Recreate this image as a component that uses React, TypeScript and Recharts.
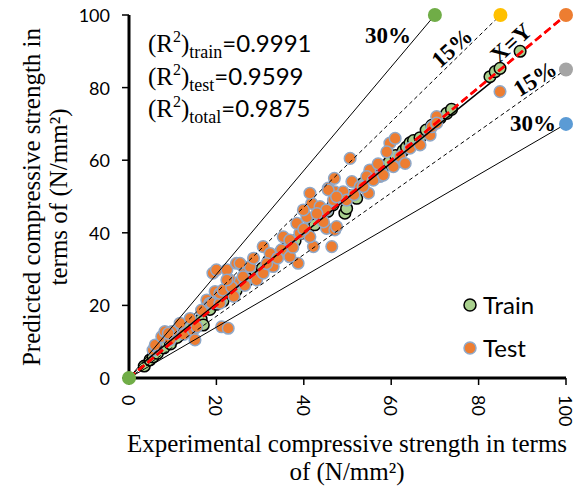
import { Legend, Scatter, ScatterChart, XAxis, YAxis } from "recharts";

const trainX = [3.5, 4.8, 5.5, 6.5, 8, 9.5, 11, 12.5, 13.5, 15, 16.5, 17, 18.5, 20, 21.5, 23, 24.5, 26, 27.5, 29, 30.5, 32, 33.5, 35, 36.5, 38, 39.5, 41, 42.5, 44, 45.5, 46.7, 49.4, 49.8, 50.5, 52.1, 53.5, 55, 56.7, 58, 59.5, 61, 62.7, 63.5, 64.3, 65.1, 66.6, 68, 69.3, 71.2, 72.7, 73.8, 82.6, 83.8, 84.9, 89.5];
const trainY = [3.3, 5.0, 5.8, 6.8, 8.3, 9.4, 11.2, 12.3, 13.9, 15.4, 16.2, 14.6, 18.9, 20.3, 21.2, 23.4, 24.1, 26.4, 27.2, 29.3, 30.2, 32.4, 33.1, 35.2, 36.9, 37.8, 39.9, 41.3, 42.2, 44.3, 45.9, 47.7, 45.4, 46.7, 50.2, 49.5, 53.6, 55.3, 57.2, 57.8, 59.4, 61.3, 62.6, 63.6, 64.8, 65.4, 66.2, 68.3, 69.6, 71.6, 72.9, 74.0, 83.0, 84.4, 85.3, 90.0];

const testX = [5.5, 6.3, 6, 7.5, 8.2, 9.8, 9.4, 9, 11.7, 12.5, 14, 14.7, 15.5, 15.1, 16.6, 17.8, 18.5, 18.9, 20.8, 19.7, 20.8, 21.5, 19.2, 20, 22.4, 23.1, 24.6, 26.1, 25.4, 21.2, 22.7, 23.5, 24, 26.5,
  27.7, 25.4, 26.1, 29.2, 30.7, 22.4, 33, 38.7, 30.7, 32.3, 35.3, 36.8, 34.9, 36.8, 42.2, 41.4, 39.1, 38.4, 40.7, 43.7, 45.2, 47.1, 41.8, 43.7, 39.9, 41.4, 45.6, 47.1, 46.4, 47.5, 28.5, 31.5, 34, 37.5, 40, 44.5,
  50.6, 59.7, 60.9, 59, 62, 60.5, 55.1, 54.4, 57.4, 51, 52.9, 49, 45.6, 46.8, 49.8, 45.2, 43, 64.3, 66.6, 68.9, 55.9, 58.2, 54.8, 53.6, 47.5, 62, 63.2, 47, 51.5, 57,
  70.4, 69.3, 70.4, 84.9];
const testY = [7.7, 8.6, 9.1, 11.4, 12.8, 12.8, 10.5, 12.3, 15.1, 12, 16.4, 13.2, 14.1, 10.5, 18.7, 21.5, 20.6, 20.6, 20.6, 23.8, 23.3, 24.2, 28.9, 29.8, 29.8, 27, 31.6, 30.7, 26.5, 14.1, 13.7, 25, 22.5, 25.5,
  30.7, 31.6, 27.9, 27, 28.9, 27, 30.7, 31.6, 36.2, 34.3, 38.9, 38, 35.3, 33.4, 36.2, 38.9, 39.9, 42.6, 44.4, 44.4, 41.2, 40.8, 48.1, 47.2, 46.3, 50.9, 52.3, 51.3, 36.2, 41.7, 33, 31.5, 33, 36, 41, 43,
  60.5, 64.7, 66, 62.3, 59.6, 58.2, 57.3, 55.5, 55.5, 54.1, 52.7, 51.3, 51.8, 49, 49, 46.3, 45.3, 63.3, 64.2, 66.9, 54.5, 55.9, 50.9, 52.7, 49.9, 61, 59.1, 55, 50.5, 59,
  72, 69.2, 70.2, 78.9];

const axisTicks = [0, 20, 40, 60, 80, 100];

// +30%, +15%, X=Y, -15%, -30% lines, all starting at the origin
const boundX = [70, 85, 100, 100, 100];
const boundY = [100, 100, 100, 85, 70];
const boundColors = ["#70AD47", "#FFC000", "#ED7D31", "#A5A5A5", "#5B9BD5"];
const boundStroke = ["#000", "#000", "#FF0000", "#000", "#000"];
const boundDash = ["0", "4 3", "8 4", "4 3", "0"];
const boundWidth = [1, 1, 2.5, 1, 1];

const fitX = [3, 83];
const fitY = [4, 81.6];

const r2Names = ["train", "test", "total"];
const r2Values = ["0.9991", "0.9599", "0.9875"];

const toPoints = (xs: number[], ys: number[]) => xs.map((x, i) => ({ x, y: ys[i] }));
const trainData = toPoints(trainX, trainY);
const testData = toPoints(testX, testY);
const fitData = toPoints(fitX, fitY);
const endDots = [{ x: 0, y: 0, fill: "#70AD47" }, ...boundX.map((x, i) => ({ x, y: boundY[i], fill: boundColors[i] }))];

const serif = "'Liberation Serif', 'Times New Roman', serif";
const sans = "Lato, 'Open Sans', sans-serif";

const XTick = ({ x, y, payload }: any) => (
  <text x={x} y={y + 8} transform={`rotate(90 ${x} ${y + 8})`} textAnchor="start" dominantBaseline="central" fontFamily={sans} fontSize={18} fill="#000">
    {payload.value}
  </text>
);

const YTick = ({ x, y, payload }: any) => (
  <text x={x} y={y} textAnchor="end" dominantBaseline="central" fontFamily={sans} fontSize={18} fill="#000">
    {payload.value}
  </text>
);

const noShape = () => <g />;

const legendItems = [
  { name: "Train", fill: "#A9D18E", stroke: "#000" },
  { name: "Test", fill: "#ED7D31", stroke: "#8FA8C8" },
];

function LegendBox() {
  return (
    <div>
      {legendItems.map((it) => (
        <div key={it.name} style={{ display: "flex", alignItems: "center", height: 43, fontFamily: sans, fontSize: 24 }}>
          <svg width={16} height={16}>
            <circle cx={8} cy={8} r={6} fill={it.fill} stroke={it.stroke} strokeWidth={1.5} />
          </svg>
          <span style={{ marginLeft: 5 }}>{it.name}</span>
        </div>
      ))}
    </div>
  );
}

export default function App() {
  return (
    <div style={{ position: "absolute", left: 0, top: 0, width: 581, height: 486, background: "#fff" }}>
      <ScatterChart width={581} height={486} margin={{ top: 15, right: 15, left: 0, bottom: 0 }}>
        <XAxis
          dataKey="x"
          type="number"
          domain={[0, 100]}
          ticks={axisTicks}
          height={108}
          tickSize={7}
          tick={<XTick />}
          axisLine={{ stroke: "#000", strokeWidth: 3 }}
          tickLine={{ stroke: "#000", strokeWidth: 1.5 }}
        />
        <XAxis xAxisId="top" orientation="top" type="number" domain={[0, 100]} height={0} tick={false} tickLine={false} axisLine={{ stroke: "#000", strokeWidth: 3 }} />
        <YAxis
          dataKey="y"
          type="number"
          domain={[0, 100]}
          ticks={axisTicks}
          width={129}
          tickSize={7}
          tickMargin={12}
          tick={<YTick />}
          axisLine={{ stroke: "#000", strokeWidth: 3 }}
          tickLine={{ stroke: "#000", strokeWidth: 1.5 }}
        />
        <YAxis yAxisId="right" orientation="right" type="number" domain={[0, 100]} width={0} tick={false} tickLine={false} axisLine={{ stroke: "#000", strokeWidth: 3 }} />

        <Scatter name="Train" data={trainData} isAnimationActive={false}
          shape={(p: any) => <circle cx={p.cx} cy={p.cy} r={5.8} fill="#A9D18E" stroke="#000" strokeWidth={1.5} />} />
        <Scatter name="Test" data={testData} isAnimationActive={false}
          shape={(p: any) => <circle cx={p.cx} cy={p.cy} r={5.8} fill="#ED7D31" stroke="#8FA8C8" strokeWidth={1.5} />} />

        {boundX.map((bx, i) => (
          <Scatter
            key={i}
            data={[{ x: 0, y: 0 }, { x: bx, y: boundY[i] }]}
            line={{ stroke: boundStroke[i], strokeWidth: boundWidth[i], strokeDasharray: boundDash[i] }}
            shape={noShape}
            isAnimationActive={false}
          />
        ))}
        <Scatter data={fitData} line={{ stroke: "#000", strokeWidth: 1.5 }} shape={noShape} isAnimationActive={false} />
        <Scatter data={[{ x: 0, y: 0 }, { x: 100, y: 100 }]} line={{ stroke: "#FF0000", strokeWidth: 2.5, strokeDasharray: "8 4" }} shape={noShape} isAnimationActive={false} />
        <Scatter data={endDots} isAnimationActive={false}
          shape={(p: any) => <circle cx={p.cx} cy={p.cy} r={7} fill={p.payload.fill} />} />

        <Legend layout="horizontal" verticalAlign="middle" align="center" content={<LegendBox />}
          wrapperStyle={{ left: 462, top: 283, width: 110 }} />

        {r2Names.map((n, i) => (
          <text key={n} x={148} y={52 + i * 32.5} fontFamily={serif} fontSize={25} fill="#000">
            <tspan>(R</tspan>
            <tspan dy={-10} fontSize={16}>2</tspan>
            <tspan dy={10}>)</tspan>
            <tspan dy={6} fontSize={18}>{n}</tspan>
            <tspan dy={-6} fontFamily={sans} fontSize={24}>={r2Values[i]}</tspan>
          </text>
        ))}

        <g fontFamily={serif} fontWeight="bold" fontSize={23} fill="#000">
          <text x={388} y={35} textAnchor="middle" dominantBaseline="central">30%</text>
          <text x={452} y={48} textAnchor="middle" dominantBaseline="central" transform="rotate(-42 452 48)">15%</text>
          <text x={511} y={43} textAnchor="middle" dominantBaseline="central" transform="rotate(-42 511 43)">X=Y</text>
          <text x={535} y={79} textAnchor="middle" dominantBaseline="central" transform="rotate(-32 535 79)">15%</text>
          <text x={533} y={123} textAnchor="middle" dominantBaseline="central">30%</text>
        </g>

        <g fontFamily={serif} fontSize={25} fill="#000" textAnchor="middle">
          <text x={31} y={197} dominantBaseline="central" transform="rotate(-90 31 197)">Predicted compressive strength in</text>
          <text x={58} y={197} dominantBaseline="central" transform="rotate(-90 58 197)">terms of (N/mm²)</text>
          <text x={347} y={443} dominantBaseline="central">Experimental compressive strength in terms</text>
          <text x={347} y={471} dominantBaseline="central">of (N/mm²)</text>
        </g>
      </ScatterChart>
    </div>
  );
}
